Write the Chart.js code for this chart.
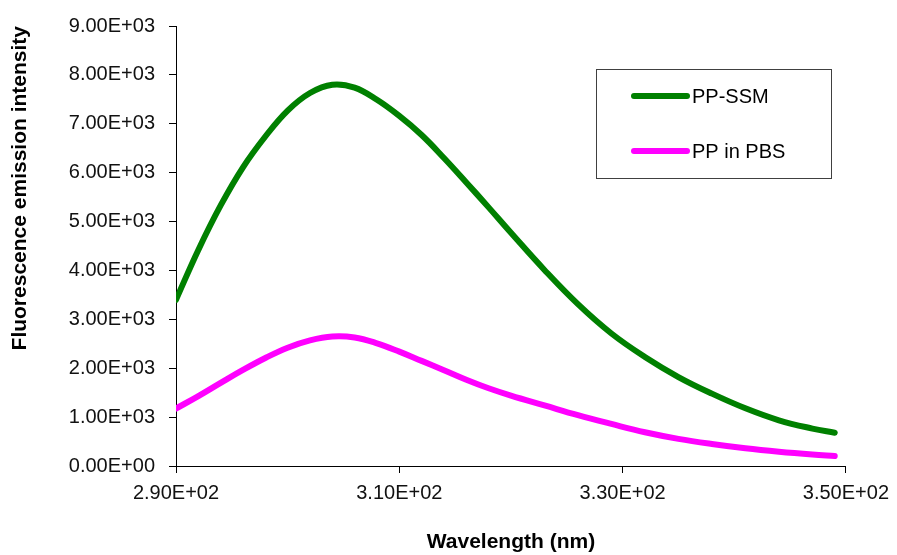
<!DOCTYPE html>
<html>
<head>
<meta charset="utf-8">
<script src="https://cdn.jsdelivr.net/npm/chart.js@4/dist/chart.umd.min.js"></script>
<style>
  html, body { margin: 0; padding: 0; background: #fff; }
  #wrap { width: 897px; height: 555px; position: relative; }
</style>
</head>
<body>
<div id="wrap"><canvas id="c"></canvas></div>
<script>
// ---- data ----
const wavelengths = [290, 292, 294, 296, 298, 300, 302, 304, 306, 308, 310, 312, 314, 316, 318, 320, 323, 326, 329, 332, 335, 338, 341, 344, 347, 349];
const ppSsm = [3400, 4420, 5330, 6110, 6740, 7270, 7630, 7800, 7740, 7490, 7160, 6770, 6300, 5800, 5290, 4770, 4010, 3310, 2710, 2230, 1820, 1480, 1180, 935, 765, 680];
const ppPbs = [1175, 1430, 1700, 1965, 2210, 2420, 2570, 2650, 2630, 2510, 2340, 2150, 1960, 1765, 1590, 1440, 1240, 1040, 860, 690, 555, 450, 362, 292, 235, 205];
const seriesNames = ['PP-SSM', 'PP in PBS'];
const xTitle = 'Wavelength (nm)';
const yTitle = 'Fluorescence emission intensity';
const xRange = [290, 350, 20];
const yRange = [0, 9000, 1000];

function sci(v) {
  const s = Number(v).toExponential(2);
  const parts = s.split('e');
  const sign = parts[1][0] === '-' ? '-' : '+';
  const d = parts[1].replace(/[+-]/, '').padStart(2, '0');
  return parts[0] + 'E' + sign + d;
}

const FONT = "'Liberation Sans', Arial, sans-serif";

const legendBox = {
  id: 'legendBox',
  afterDatasetsDraw(chart) {
    const { ctx, chartArea: a } = chart;
    const w = a.right - a.left, h = a.bottom - a.top;
    const x0 = Math.round(a.left + w * 0.6265), y0 = Math.round(a.top + h * 0.0973);
    const x1 = Math.round(a.left + w * 0.9777), y1 = Math.round(a.top + h * 0.3462);
    ctx.save();
    ctx.fillStyle = '#ffffff';
    ctx.fillRect(x0, y0, x1 - x0, y1 - y0);
    ctx.strokeStyle = '#404040';
    ctx.lineWidth = 1;
    ctx.strokeRect(x0 + 0.5, y0 + 0.5, x1 - x0, y1 - y0);
    chart.data.datasets.forEach((ds, i) => {
      const y = y0 + 27 + i * 55;
      ctx.beginPath();
      ctx.strokeStyle = ds.borderColor;
      ctx.lineWidth = 6;
      ctx.lineCap = 'round';
      ctx.moveTo(x0 + 38, y);
      ctx.lineTo(x0 + 91, y);
      ctx.stroke();
      ctx.fillStyle = '#000';
      ctx.font = '20px ' + FONT;
      ctx.textAlign = 'left';
      ctx.textBaseline = 'middle';
      ctx.fillText(ds.label, x0 + 96, y + 1);
    });
    ctx.restore();
  }
};

new Chart(document.getElementById('c'), {
  type: 'line',
  data: {
    datasets: [
      {
        label: seriesNames[0],
        data: wavelengths.map((x, i) => ({ x, y: ppSsm[i] })),
        borderColor: '#008000',
        borderWidth: 6,
        borderCapStyle: 'round',
        borderJoinStyle: 'round',
        pointRadius: 0,
        tension: 0.4,
        fill: false
      },
      {
        label: seriesNames[1],
        data: wavelengths.map((x, i) => ({ x, y: ppPbs[i] })),
        borderColor: '#ff00ff',
        borderWidth: 6,
        borderCapStyle: 'round',
        borderJoinStyle: 'round',
        pointRadius: 0,
        tension: 0.4,
        fill: false
      }
    ]
  },
  options: {
    responsive: true,
    maintainAspectRatio: false,
    animation: false,
    layout: { padding: { top: 24, right: 49, left: 0, bottom: 0 } },
    plugins: {
      legend: { display: false },
      tooltip: { enabled: false }
    },
    scales: {
      x: {
        type: 'linear',
        min: xRange[0], max: xRange[1],
        afterFit(s) { s.height = 89; },
        ticks: {
          stepSize: xRange[2],
          callback: (v) => sci(v),
          color: '#111',
          font: { family: FONT, size: 20 },
          padding: 8,
          maxRotation: 0,
          autoSkip: false
        },
        grid: { drawOnChartArea: false, drawTicks: true, tickLength: 7, color: '#000', lineWidth: 1 },
        border: { color: '#000', width: 1 },
        title: {
          display: true, text: xTitle, color: '#000',
          font: { family: FONT, size: 21, weight: 'bold' },
          padding: { top: 0, bottom: 0 }
        }
      },
      y: {
        min: yRange[0], max: yRange[1],
        afterFit(s) { s.width = 176; },
        ticks: {
          stepSize: yRange[2],
          callback: (v) => sci(v),
          color: '#111',
          font: { family: FONT, size: 20 },
          padding: 14
        },
        grid: { drawOnChartArea: false, drawTicks: true, tickLength: 7, color: '#000', lineWidth: 1 },
        border: { color: '#000', width: 1 },
        title: {
          display: true, text: yTitle, color: '#000', align: 'end',
          font: { family: FONT, size: 21, weight: 'bold' },
          padding: { top: 8, bottom: 0 }
        }
      }
    }
  },
  plugins: [legendBox]
});
</script>
</body>
</html>
